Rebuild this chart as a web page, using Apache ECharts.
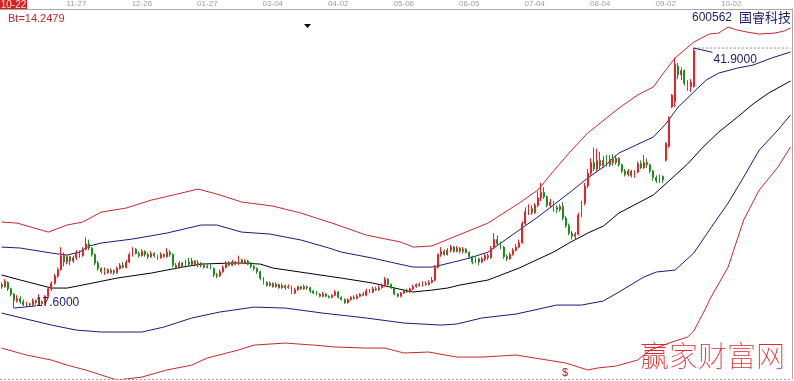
<!DOCTYPE html>
<html><head><meta charset="utf-8">
<script src="https://cdn.jsdelivr.net/npm/echarts@6/dist/echarts.min.js"></script>
<style>html,body{margin:0;padding:0;background:#fff;overflow:hidden}#c{width:794px;height:381px}</style>
</head><body><div id="c"></div>
<script>
// ---- data ----
const barCount = 254; // trading bars incl. forward projection area
const firstDate = '10-22';
const tickIndex = [24,45,66,87,108,129,150,171,192,213,234];
const tickLabels = ['11-27','12-26','01-27','03-04','04-02','05-06','06-05','07-04','08-04','09-02','10-02'];
const stockTitle = '600562';
const stockName = '国睿科技';
const btText = 'Bt=14.2479';

// [open, close, low, high]
const kdata = [
[19.8,19.6,19.4,20.0],[19.6,20.1,19.5,20.3],[20.0,19.4,19.2,20.1],[19.4,18.9,18.7,19.5],[18.9,18.3,17.6,19.0],
[18.3,18.5,18.1,18.8],[18.5,18.2,18.0,18.7],[18.2,17.9,17.8,18.4],[17.9,18.0,17.7,18.2],[18.0,17.9,17.8,18.1],
[17.9,18.3,17.8,18.5],[18.3,18.1,17.9,18.4],[18.1,18.2,17.9,18.9],[18.2,18.0,17.9,18.3],[18.0,18.7,17.9,18.8],
[18.7,19.4,18.6,19.5],[19.4,19.9,19.2,20.1],[19.9,20.6,19.8,20.8],[20.6,21.2,20.4,21.4],[21.2,22.5,21.1,23.3],
[22.5,21.9,21.5,22.8],[21.9,22.4,21.7,22.6],[22.4,22.0,21.6,22.5],[22.0,22.3,21.8,22.5],[22.3,22.8,22.1,23.0],
[22.8,22.5,22.3,23.0],[22.5,23.1,22.4,23.3],[23.1,23.6,23.0,24.2],[23.6,23.2,23.0,24.0],[23.2,22.6,22.4,23.3],
[22.6,21.8,21.6,22.7],[21.8,21.3,21.1,22.0],[21.3,21.0,20.8,21.4],[21.0,21.2,20.7,21.4],[21.2,20.9,20.8,21.3],
[20.9,21.1,20.8,21.3],[21.1,20.9,20.7,21.2],[20.9,21.3,20.8,21.5],[21.3,21.6,21.2,21.8],[21.6,21.4,21.3,21.9],
[21.4,21.9,21.3,22.1],[21.9,22.6,21.8,22.8],[22.6,23.1,22.4,23.3],[23.1,22.7,22.6,23.2],[22.7,22.5,22.3,22.9],
[22.5,22.9,22.4,23.1],[22.9,22.6,22.4,23.0],[22.6,22.4,22.2,22.8],[22.4,22.7,22.3,22.9],[22.7,22.5,22.3,22.8],
[22.5,22.3,22.1,22.6],[22.3,22.6,22.2,22.8],[22.6,22.4,22.3,22.7],[22.4,22.8,22.3,23.2],[22.8,22.6,22.4,23.0],
[22.6,21.6,21.4,22.7],[21.6,21.4,21.2,21.8],[21.4,21.8,21.3,22.0],[21.8,21.5,21.4,21.9],[21.5,21.9,21.4,22.1],
[21.9,21.7,21.5,22.3],[21.7,22.0,21.6,22.3],[22.0,21.6,21.5,22.1],[21.6,21.8,21.4,22.1],[21.8,21.6,21.4,21.9],
[21.6,21.4,21.3,21.8],[21.4,21.5,21.3,21.7],[21.5,21.3,21.2,21.7],[21.3,20.7,20.5,21.4],[20.7,20.6,20.4,20.9],
[20.6,21.0,20.5,21.2],[21.0,21.4,20.9,21.6],[21.4,21.8,21.3,22.0],[21.8,21.6,21.5,22.0],[21.6,21.9,21.5,22.1],
[21.9,21.7,21.6,22.0],[21.7,22.1,21.6,22.5],[22.1,21.8,21.7,22.2],[21.8,22.0,21.7,22.2],[22.0,21.7,21.6,22.1],
[21.7,21.5,21.3,21.9],[21.5,21.3,21.1,21.6],[21.3,21.0,20.8,21.4],[21.0,20.4,20.2,21.1],[20.4,20.0,19.8,20.5],
[20.0,19.7,19.6,20.1],[19.7,19.9,19.6,20.1],[19.9,19.6,19.5,20.0],[19.6,19.8,19.5,20.0],[19.8,19.5,19.4,19.9],
[19.5,19.7,19.4,19.9],[19.7,19.5,19.3,19.8],[19.5,19.6,19.4,19.8],[19.6,19.0,18.9,19.7],[19.0,19.3,18.9,19.5],
[19.3,19.6,19.2,19.7],[19.6,19.4,19.3,19.7],[19.4,19.6,19.3,19.8],[19.6,19.5,19.3,19.7],[19.5,19.2,19.0,19.6],
[19.2,19.0,18.9,19.3],[19.0,18.9,18.8,19.2],[18.9,18.7,18.6,19.0],[18.7,18.9,18.6,19.1],[18.9,18.7,18.6,19.0],
[18.7,18.6,18.5,18.8],[18.6,18.8,18.5,18.9],[18.8,19.1,18.7,19.3],[19.1,18.6,18.5,19.2],[18.6,18.4,18.3,18.7],
[18.4,18.1,18.0,18.5],[18.1,18.4,18.0,18.5],[18.4,18.6,18.3,18.7],[18.6,18.5,18.4,18.8],[18.5,18.7,18.4,18.9],
[18.7,18.9,18.6,19.0],[18.9,18.8,18.7,19.1],[18.8,19.2,18.7,19.4],[19.2,19.1,19.0,19.4],[19.1,19.4,19.0,19.6],
[19.4,19.3,19.2,19.6],[19.3,19.5,19.2,19.7],[19.5,19.7,19.4,19.9],[19.7,20.3,19.6,20.5],[20.3,19.8,19.7,20.4],
[19.8,19.5,19.4,19.9],[19.5,18.9,18.8,19.6],[18.9,18.7,18.6,19.0],[18.7,19.0,18.6,19.1],[19.0,19.2,18.9,19.4],
[19.2,19.1,19.0,19.4],[19.1,19.4,19.0,19.5],[19.4,19.6,19.3,19.8],[19.6,19.8,19.5,19.9],[19.8,19.7,19.6,20.0],
[19.7,19.9,19.6,20.1],[19.9,19.8,19.7,20.1],[19.8,20.0,19.7,20.2],[20.0,20.2,19.9,20.5],[20.2,21.4,20.1,21.6],
[21.4,22.6,21.3,22.7],[22.6,22.9,22.4,23.3],[22.9,22.6,22.5,23.1],[22.6,23.0,22.5,23.2],[23.0,23.3,22.8,23.5],
[23.3,22.9,22.8,23.4],[22.9,23.2,22.8,23.4],[23.2,22.9,22.7,23.3],[22.9,23.1,22.7,23.3],[23.1,22.8,22.7,23.2],
[22.8,22.4,22.2,22.9],[22.4,21.9,21.7,22.5],[21.9,22.2,21.8,22.4],[22.2,21.9,21.6,22.3],[21.9,22.2,21.8,22.4],
[22.2,22.5,22.0,22.7],[22.5,22.3,22.1,22.7],[22.3,23.2,22.2,23.4],[23.2,24.0,23.1,24.6],[24.0,23.6,23.4,24.4],
[23.6,23.3,23.1,23.8],[23.3,22.4,22.2,23.4],[22.4,22.2,22.0,22.6],[22.2,22.6,22.1,22.8],[22.6,23.0,22.5,23.2],
[23.0,23.3,22.9,23.6],[23.3,23.7,23.2,24.0],[23.7,25.5,23.6,25.7],[25.5,26.6,25.3,27.0],[26.6,26.9,26.3,27.3],
[26.9,26.5,26.3,27.2],[26.5,27.2,26.4,27.4],[27.2,27.9,27.0,28.5],[27.9,28.4,27.6,29.3],[28.4,28.0,27.8,28.9],
[28.0,27.2,27.0,28.1],[27.2,27.5,27.0,27.8],[27.5,27.0,26.6,27.6],[27.0,26.8,26.5,27.2],[26.8,27.1,26.6,27.3],
[27.1,26.0,25.8,27.5],[26.0,25.3,25.1,26.2],[25.3,24.6,24.4,25.5],[24.6,24.3,24.0,24.8],[24.3,24.5,24.0,24.7],
[24.5,26.3,24.4,26.5],[26.3,27.4,26.1,27.6],[27.4,29.0,27.2,29.3],[29.0,30.2,28.8,30.6],[30.2,31.2,30.0,31.6],
[31.2,30.6,30.4,32.6],[30.6,31.4,30.3,32.5],[31.4,30.9,30.6,32.2],[30.9,31.4,30.7,31.8],[31.4,31.0,30.8,31.9],
[31.0,31.5,30.8,31.9],[31.5,31.2,30.9,32.0],[31.2,31.6,31.0,31.9],[31.6,31.0,30.8,31.7],[31.0,30.4,30.2,31.1],
[30.4,30.1,29.9,30.6],[30.1,30.4,29.9,30.6],[30.4,30.0,29.8,30.5],[30.0,30.3,29.8,30.5],[30.3,31.1,30.2,31.3],
[31.1,30.7,30.6,31.4],[30.7,31.2,30.6,31.9],[31.2,31.0,30.7,31.6],[31.0,30.4,30.2,31.1],[30.4,29.8,29.5,30.5],
[29.8,29.5,29.3,30.0],[29.5,29.9,29.3,30.1],[29.9,29.6,29.3,30.0],[31.4,33.0,31.3,33.1],[32.7,35.4,32.6,35.5],
[36.4,37.5,36.3,37.6],[36.9,40.4,36.4,41.0],[40.2,39.4,39.0,40.5],[39.4,39.8,38.9,40.1],[39.8,38.6,38.4,39.9],
[38.6,38.3,37.9,38.9],[38.3,38.7,37.8,39.0],[38.3,41.7,38.2,41.9]
];

// channel lines: [bar index, price]
const upperRed = [[0,25.64],[5,25.54],[15,24.70],[21,25.36],[26,25.64],[32,26.57],[40,26.95],[48,27.69],[55,28.16],[63,28.72],[69,28.26],[77,27.51],[87,27.13],[96,26.48],[106,25.54],[117,24.42],[128,23.77],[132,23.30],[138,23.40],[145,24.24],[156,25.54],[166,27.41],[172,28.63],[177,30.40],[182,32.09],[188,33.96],[198,36.29],[204,37.51],[209,38.26],[213,39.84],[216,40.97],[222,42.46],[227,43.21],[230,43.30],[233,43.86],[236,43.58],[239,43.40],[243,43.21],[248,43.30],[251,43.49],[253,43.77]];
const upperBlue = [[0,23.30],[6,23.21],[16,22.74],[21,22.55],[25,22.83],[28,23.40],[32,23.68],[42,24.05],[53,24.61],[64,25.36],[69,25.36],[77,24.70],[86,24.52],[96,23.96],[105,23.21],[109,22.83],[119,22.27],[126,21.81],[132,21.43],[138,21.43],[141,21.62],[145,21.90],[150,22.27],[156,22.83],[166,24.89],[172,26.11],[177,27.23],[182,28.35],[188,29.75],[193,30.78],[198,32.09],[209,33.58],[213,34.80],[217,36.39],[222,37.79],[226,38.91],[230,39.56],[236,40.03],[241,40.31],[247,40.97],[253,41.53]];
const middleLine = [[0,20.69],[6,20.22],[16,19.47],[21,19.47],[26,19.75],[37,20.40],[48,20.87],[58,21.43],[64,21.71],[74,21.81],[77,21.81],[83,21.71],[87,21.34],[98,20.87],[109,20.40],[119,19.94],[126,19.47],[132,19.10],[138,19.28],[143,19.47],[147,19.75],[156,20.22],[166,21.34],[177,22.83],[182,23.68],[188,24.61],[193,25.26],[198,26.48],[209,28.16],[214,29.47],[220,31.06],[225,32.65],[230,34.05],[236,35.45],[241,36.67],[246,37.69],[253,38.82]];
const lowerBlue = [[0,17.13],[16,16.01],[24,15.54],[32,15.36],[45,15.36],[52,15.82],[61,16.67],[70,17.23],[81,17.69],[91,17.60],[103,17.13],[117,16.67],[129,16.20],[141,16.01],[146,16.11],[154,16.67],[165,17.04],[178,17.88],[186,17.88],[193,18.26],[198,19.10],[206,20.50],[210,20.97],[216,21.15],[222,22.74],[227,24.89],[233,27.41],[238,29.84],[243,32.37],[249,34.24],[253,35.64]];
const lowerRed = [[0,13.86],[8,13.21],[16,12.74],[21,12.27],[27,11.81],[34,11.15],[37,10.87],[45,11.15],[53,11.81],[61,12.27],[66,12.93],[76,13.68],[81,14.14],[91,14.33],[100,14.14],[107,13.96],[117,13.86],[123,13.86],[129,13.40],[137,13.49],[146,13.02],[154,13.02],[165,13.21],[175,12.74],[181,12.46],[188,11.81],[191,11.99],[197,12.18],[204,12.74],[208,13.68],[215,14.42],[220,14.89],[222,15.45],[226,17.69],[227,18.35],[233,21.43],[238,25.83],[243,28.63],[249,30.78],[253,32.65]];

// ---- chart ----
const cats = Array.from({length: barCount}, (_, i) => String(i));
let hiIdx = 0, loIdx = 0;
kdata.forEach((d, i) => { if (d[3] > kdata[hiIdx][3]) hiIdx = i; if (d[2] < kdata[loIdx][2]) loIdx = i; });
const hiVal = kdata[hiIdx][3], loVal = kdata[loIdx][2];

const RED = '#c8282a', BLUE = '#1a1a80', NAVY = '#1c1c6c';
function band(data, color, w) {
  return { type: 'line', data: data, symbol: 'none', smooth: false, z: 2,
    lineStyle: { color: color, width: w }, silent: true };
}

const chart = echarts.init(document.getElementById('c'), null, { renderer: 'canvas' });
chart.setOption({
  animation: false,
  backgroundColor: '#ffffff',
  grid: { left: 0, right: 2, top: 9, bottom: 2, containLabel: false },
  xAxis: {
    type: 'category', data: cats, position: 'top', boundaryGap: true,
    axisLine: { show: true, lineStyle: { color: '#a8a8a8', width: 1 } },
    axisTick: { show: false },
    splitLine: { show: false },
    axisLabel: {
      interval: (i) => tickIndex.indexOf(i) >= 0,
      formatter: (v, i) => { const k = tickIndex.indexOf(i); return k >= 0 ? tickLabels[k] : ''; },
      color: '#9c9c9c', fontSize: 8, fontFamily: 'Liberation Sans', margin: 1, lineHeight: 8
    }
  },
  yAxis: {
    type: 'value', min: 10.97, max: 45.55, position: 'right', scale: true,
    axisLine: { show: true, lineStyle: { color: '#a8a8a8' } },
    axisTick: { show: false }, axisLabel: { show: false }, splitLine: { show: false }
  },
  series: [
    band(upperRed, RED, 1),
    band(lowerRed, RED, 1),
    band(upperBlue, BLUE, 1),
    band(lowerBlue, BLUE, 1),
    band(middleLine, '#000000', 1),
    {
      type: 'candlestick', data: kdata, barWidth: 1.4, z: 3,
      itemStyle: { color: '#e8202a', color0: '#1e8c1e', borderColor: '#e8202a', borderColor0: '#1e8c1e', borderWidth: 1 }
    },
    { // high price dotted reference
      type: 'line', data: [[hiIdx, hiVal], [barCount - 1, hiVal]], symbol: 'none', z: 4, silent: true,
      lineStyle: { color: '#8a8a8a', width: 1, type: [2, 2] }
    },
    { // high marker
      type: 'line', data: [[hiIdx, hiVal], [hiIdx + 6, hiVal - 0.4]], symbol: 'none', z: 5, silent: true,
      lineStyle: { color: NAVY, width: 1 },
      endLabel: { show: true, formatter: hiVal.toFixed(4), color: NAVY, fontSize: 12, fontFamily: 'Liberation Sans', distance: 1, offset: [0, 7] }
    },
    { // low marker
      type: 'line', data: [[loIdx, loVal], [loIdx + 7, loVal + 0.2]], symbol: 'none', z: 5, silent: true,
      lineStyle: { color: NAVY, width: 1 },
      endLabel: { show: true, formatter: loVal.toFixed(4), color: NAVY, fontSize: 12, fontFamily: 'Liberation Sans', distance: 0, offset: [0, -3] }
    }
  ],
  graphic: [
    { type: 'rect', shape: { x: 0, y: 0, width: 27, height: 9 }, style: { fill: '#d42020' }, z: 100 },
    { type: 'text', x: 13.5, y: 5, z: 101, style: { text: firstDate, fill: '#ffe0e0', fontSize: 10, fontFamily: 'Liberation Sans', align: 'center', verticalAlign: 'middle' } },
    { type: 'text', x: 8, y: 18.5, style: { text: btText, fill: '#c02828', fontSize: 11, fontFamily: 'Liberation Sans', verticalAlign: 'middle' } },
    { type: 'polygon', shape: { points: [[304, 24], [311, 24], [307.5, 28]] }, style: { fill: '#000000' } },
    { type: 'text', x: 692, y: 18, style: { text: stockTitle, fill: NAVY, fontSize: 12, fontFamily: 'Liberation Sans', verticalAlign: 'middle' } },
    { type: 'text', x: 739, y: 17.5, style: { text: stockName, fill: NAVY, fontSize: 13, fontFamily: 'Noto Sans CJK SC', verticalAlign: 'middle' } },
    { type: 'text', x: 562, y: 373, style: { text: '$', fill: '#a02020', fontSize: 11, fontFamily: 'Liberation Sans', verticalAlign: 'middle' } },
    { type: 'text', x: 640, y: 356, style: { text: '赢家财富网', fill: '#e02828', fontSize: 29, fontFamily: 'Noto Sans CJK SC', fontWeight: 'lighter', verticalAlign: 'middle' } },
    { type: 'line', shape: { x1: 0, y1: 379.5, x2: 792, y2: 379.5 }, style: { stroke: '#a0a0a0', lineDash: [2, 2], lineWidth: 1 } }
  ]
});
</script></body></html>
